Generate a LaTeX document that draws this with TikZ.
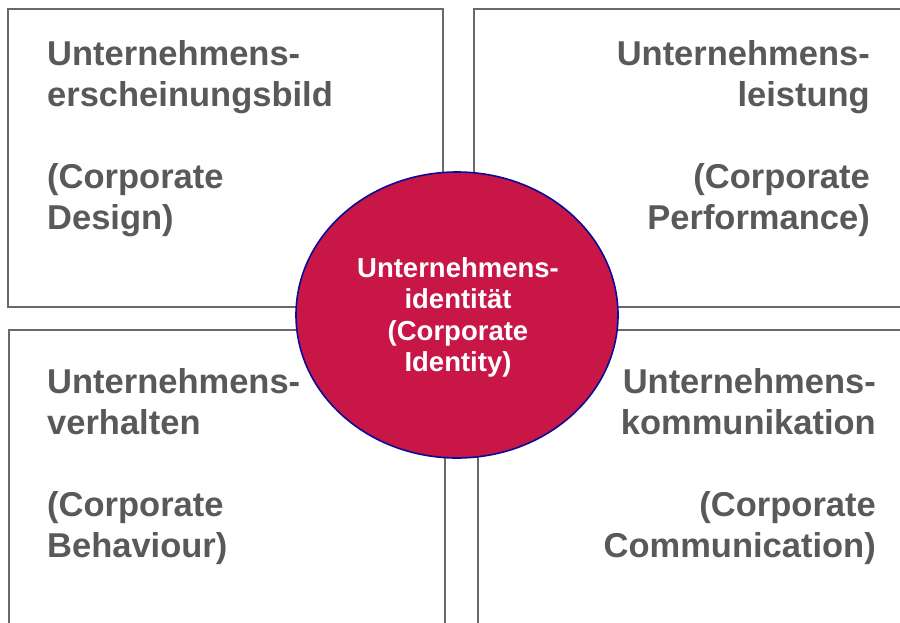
\documentclass[tikz,border=0pt]{standalone}
\usepackage{fontspec}
\setmainfont{Liberation Sans}
\usetikzlibrary{shapes.geometric}
\begin{document}
\begin{tikzpicture}[x=1pt,y=-1pt,
  frame/.style={draw=framegray,line width=1.8pt},
  label/.style={inner sep=0pt,text=labelgray,
    font=\fontsize{34.5}{41}\selectfont\bfseries},
  core/.style={ellipse,draw=coreblue,line width=1.6pt,fill=corered,
    minimum width=322pt,minimum height=286pt,inner sep=0pt},
  coretext/.style={inner sep=0pt,text=white,align=center,
    font=\fontsize{27.5}{31.5}\selectfont\bfseries}]
\definecolor{framegray}{RGB}{105,105,105}
\definecolor{labelgray}{RGB}{89,89,89}
\definecolor{corered}{RGB}{200,22,70}
\definecolor{coreblue}{RGB}{10,10,150}
\useasboundingbox (0,0) rectangle (900,622);
\clip (0,0) rectangle (900,622);
% four quadrant frames
\draw[frame] (8,9) rectangle (443,307);
\draw[frame] (474,9) rectangle (915,307);
\draw[frame] (9,330) rectangle (445,640);
\draw[frame] (478,330) rectangle (915,640);
% quadrant labels
\node[label,align=left,anchor=north west] (cd) at (47,40.3)
  {Unternehmens-\\erscheinungsbild\\[41pt](Corporate\\Design)};
\node[label,align=right,anchor=north east] (cp) at (870,40.3)
  {Unternehmens-\\leistung\\[41pt](Corporate\\Performance)};
\node[label,align=left,anchor=north west] (cb) at (47,368.3)
  {Unternehmens-\\verhalten\\[41pt](Corporate\\Behaviour)};
\node[label,align=right,anchor=north east] (cc) at (876,368.3)
  {Unternehmens-\\kommunikation\\[41pt](Corporate\\Communication)};
% central identity ellipse
\node[core] (ci) at (457,315) {};
\node[coretext,anchor=north] (cit) at (458,257.3)
  {Unternehmens-\\identität\\(Corporate\\Identity)};
\end{tikzpicture}
\end{document}
